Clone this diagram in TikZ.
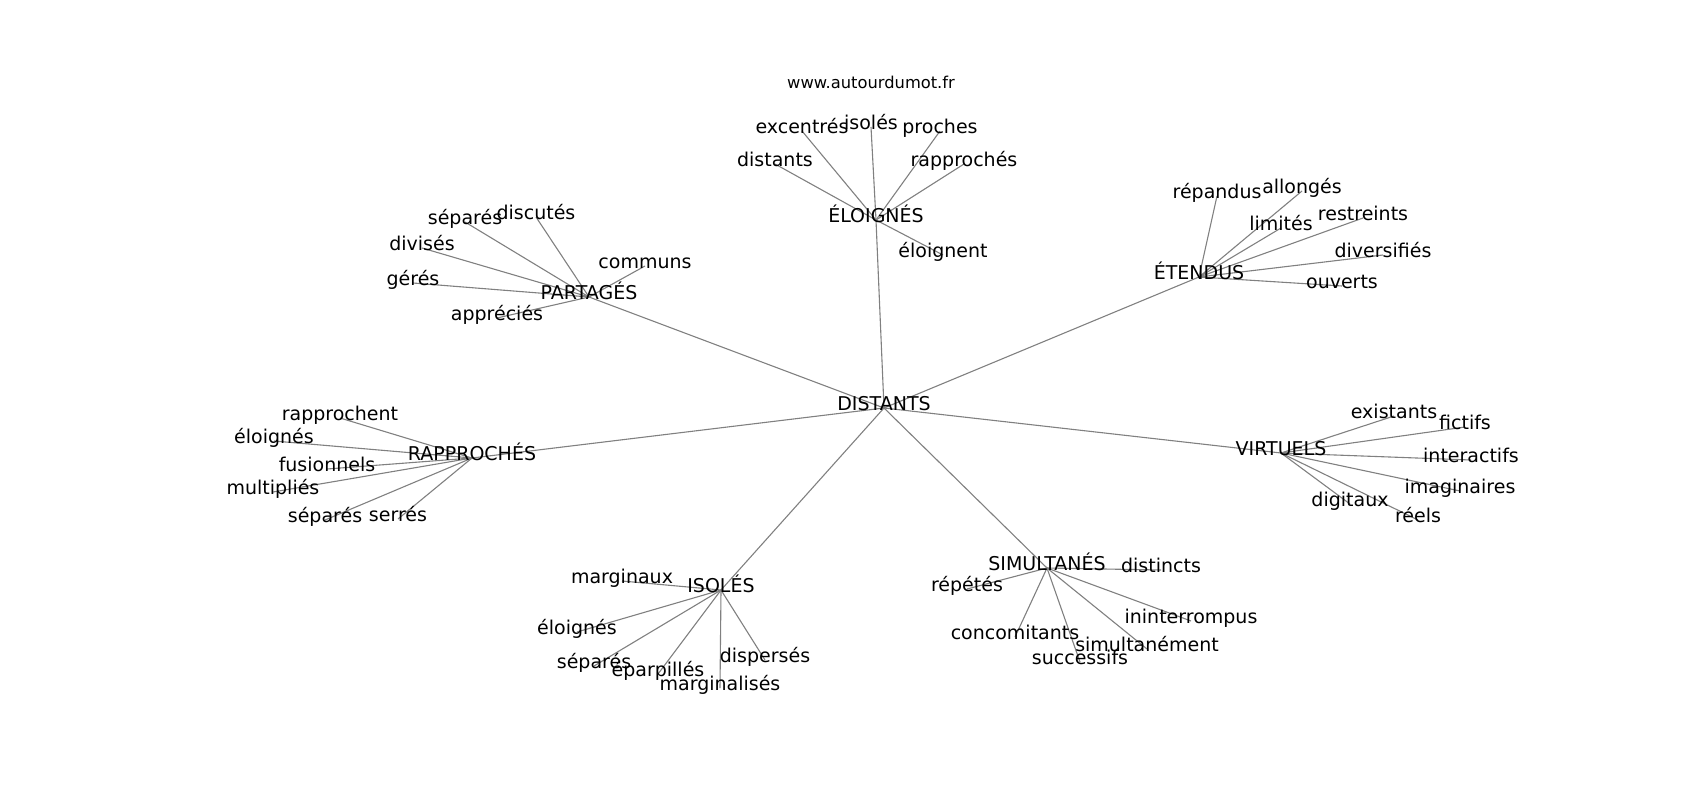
\documentclass[tikz,border=0pt]{standalone}
\usepackage{fontspec}
\setmainfont{DejaVu Sans}
\usetikzlibrary{backgrounds}
\definecolor{edgegray}{RGB}{128,128,128}
\begin{document}
\begin{tikzpicture}[x=1pt,y=-1pt,
  lbl/.style={inner sep=0pt, text height=0.78em, text depth=0.22em, font=\fontsize{19}{23}\selectfont},
  ttl/.style={inner sep=0pt, text height=0.78em, text depth=0.22em, font=\fontsize{16.3}{20}\selectfont},
  edge/.style={draw=edgegray, line width=1.1pt}]
\useasboundingbox (0,-4) rectangle (1700,796);
\node[ttl] (title) at (871,82) {www.autourdumot.fr};
% hubs
\node[lbl] (d) at (884,404) {DISTANTS};
\node[lbl] (e) at (876,216) {ÉLOIGNÉS};
\node[lbl] (p) at (589,293) {PARTAGÉS};
\node[lbl] (t) at (1199,273) {ÉTENDUS};
\node[lbl] (r) at (472,454) {RAPPROCHÉS};
\node[lbl] (v) at (1281,449) {VIRTUELS};
\node[lbl] (i) at (721,586) {ISOLÉS};
\node[lbl] (s) at (1047,564) {SIMULTANÉS};
% ÉLOIGNÉS leaves
\node[lbl] (e1) at (802,127) {excentrés};
\node[lbl] (e2) at (871,123) {isolés};
\node[lbl] (e3) at (940,127) {proches};
\node[lbl] (e4) at (775,160) {distants};
\node[lbl] (e5) at (964,160) {rapprochés};
\node[lbl] (e6) at (943,251) {éloignent};
% PARTAGÉS leaves
\node[lbl] (p1) at (465,218) {séparés};
\node[lbl] (p2) at (536,213) {discutés};
\node[lbl] (p3) at (422,244) {divisés};
\node[lbl] (p4) at (413,279) {gérés};
\node[lbl] (p5) at (645,262) {communs};
\node[lbl] (p6) at (497,314) {appréciés};
% ÉTENDUS leaves
\node[lbl] (t1) at (1217,192) {répandus};
\node[lbl] (t2) at (1302,187) {allongés};
\node[lbl] (t3) at (1281,224) {limités};
\node[lbl] (t4) at (1363,214) {restreints};
\node[lbl] (t5) at (1383,251) {diversifiés};
\node[lbl] (t6) at (1342,282) {ouverts};
% RAPPROCHÉS leaves
\node[lbl] (r1) at (340,414) {rapprochent};
\node[lbl] (r2) at (274,437) {éloignés};
\node[lbl] (r3) at (327,465) {fusionnels};
\node[lbl] (r4) at (273,488) {multipliés};
\node[lbl] (r5) at (325,516) {séparés};
\node[lbl] (r6) at (398,515) {serrés};
% VIRTUELS leaves
\node[lbl] (v1) at (1394,412) {existants};
\node[lbl] (v2) at (1465,423) {fictifs};
\node[lbl] (v3) at (1471,456) {interactifs};
\node[lbl] (v4) at (1460,487) {imaginaires};
\node[lbl] (v5) at (1350,500) {digitaux};
\node[lbl] (v6) at (1418,516) {réels};
% ISOLÉS leaves
\node[lbl] (i1) at (622,577) {marginaux};
\node[lbl] (i2) at (577,628) {éloignés};
\node[lbl] (i3) at (594,662) {séparés};
\node[lbl] (i4) at (658,670) {éparpillés};
\node[lbl] (i5) at (765,656) {dispersés};
\node[lbl] (i6) at (720,684) {marginalisés};
% SIMULTANÉS leaves
\node[lbl] (s1) at (1161,566) {distincts};
\node[lbl] (s2) at (967,585) {répétés};
\node[lbl] (s3) at (1191,617) {ininterrompus};
\node[lbl] (s4) at (1015,633) {concomitants};
\node[lbl] (s5) at (1147,645) {simultanément};
\node[lbl] (s6) at (1080,658) {successifs};
\begin{pgfonlayer}{background}
\foreach \h in {e,p,t,r,v,i,s} {\draw[edge] (d.center) -- (\h.center);}
\foreach \h in {e,p,t,r,v,i,s} {
  \foreach \k in {1,...,6} {\draw[edge] (\h.center) -- (\h\k.center);}
}
\end{pgfonlayer}
\end{tikzpicture}
\end{document}
